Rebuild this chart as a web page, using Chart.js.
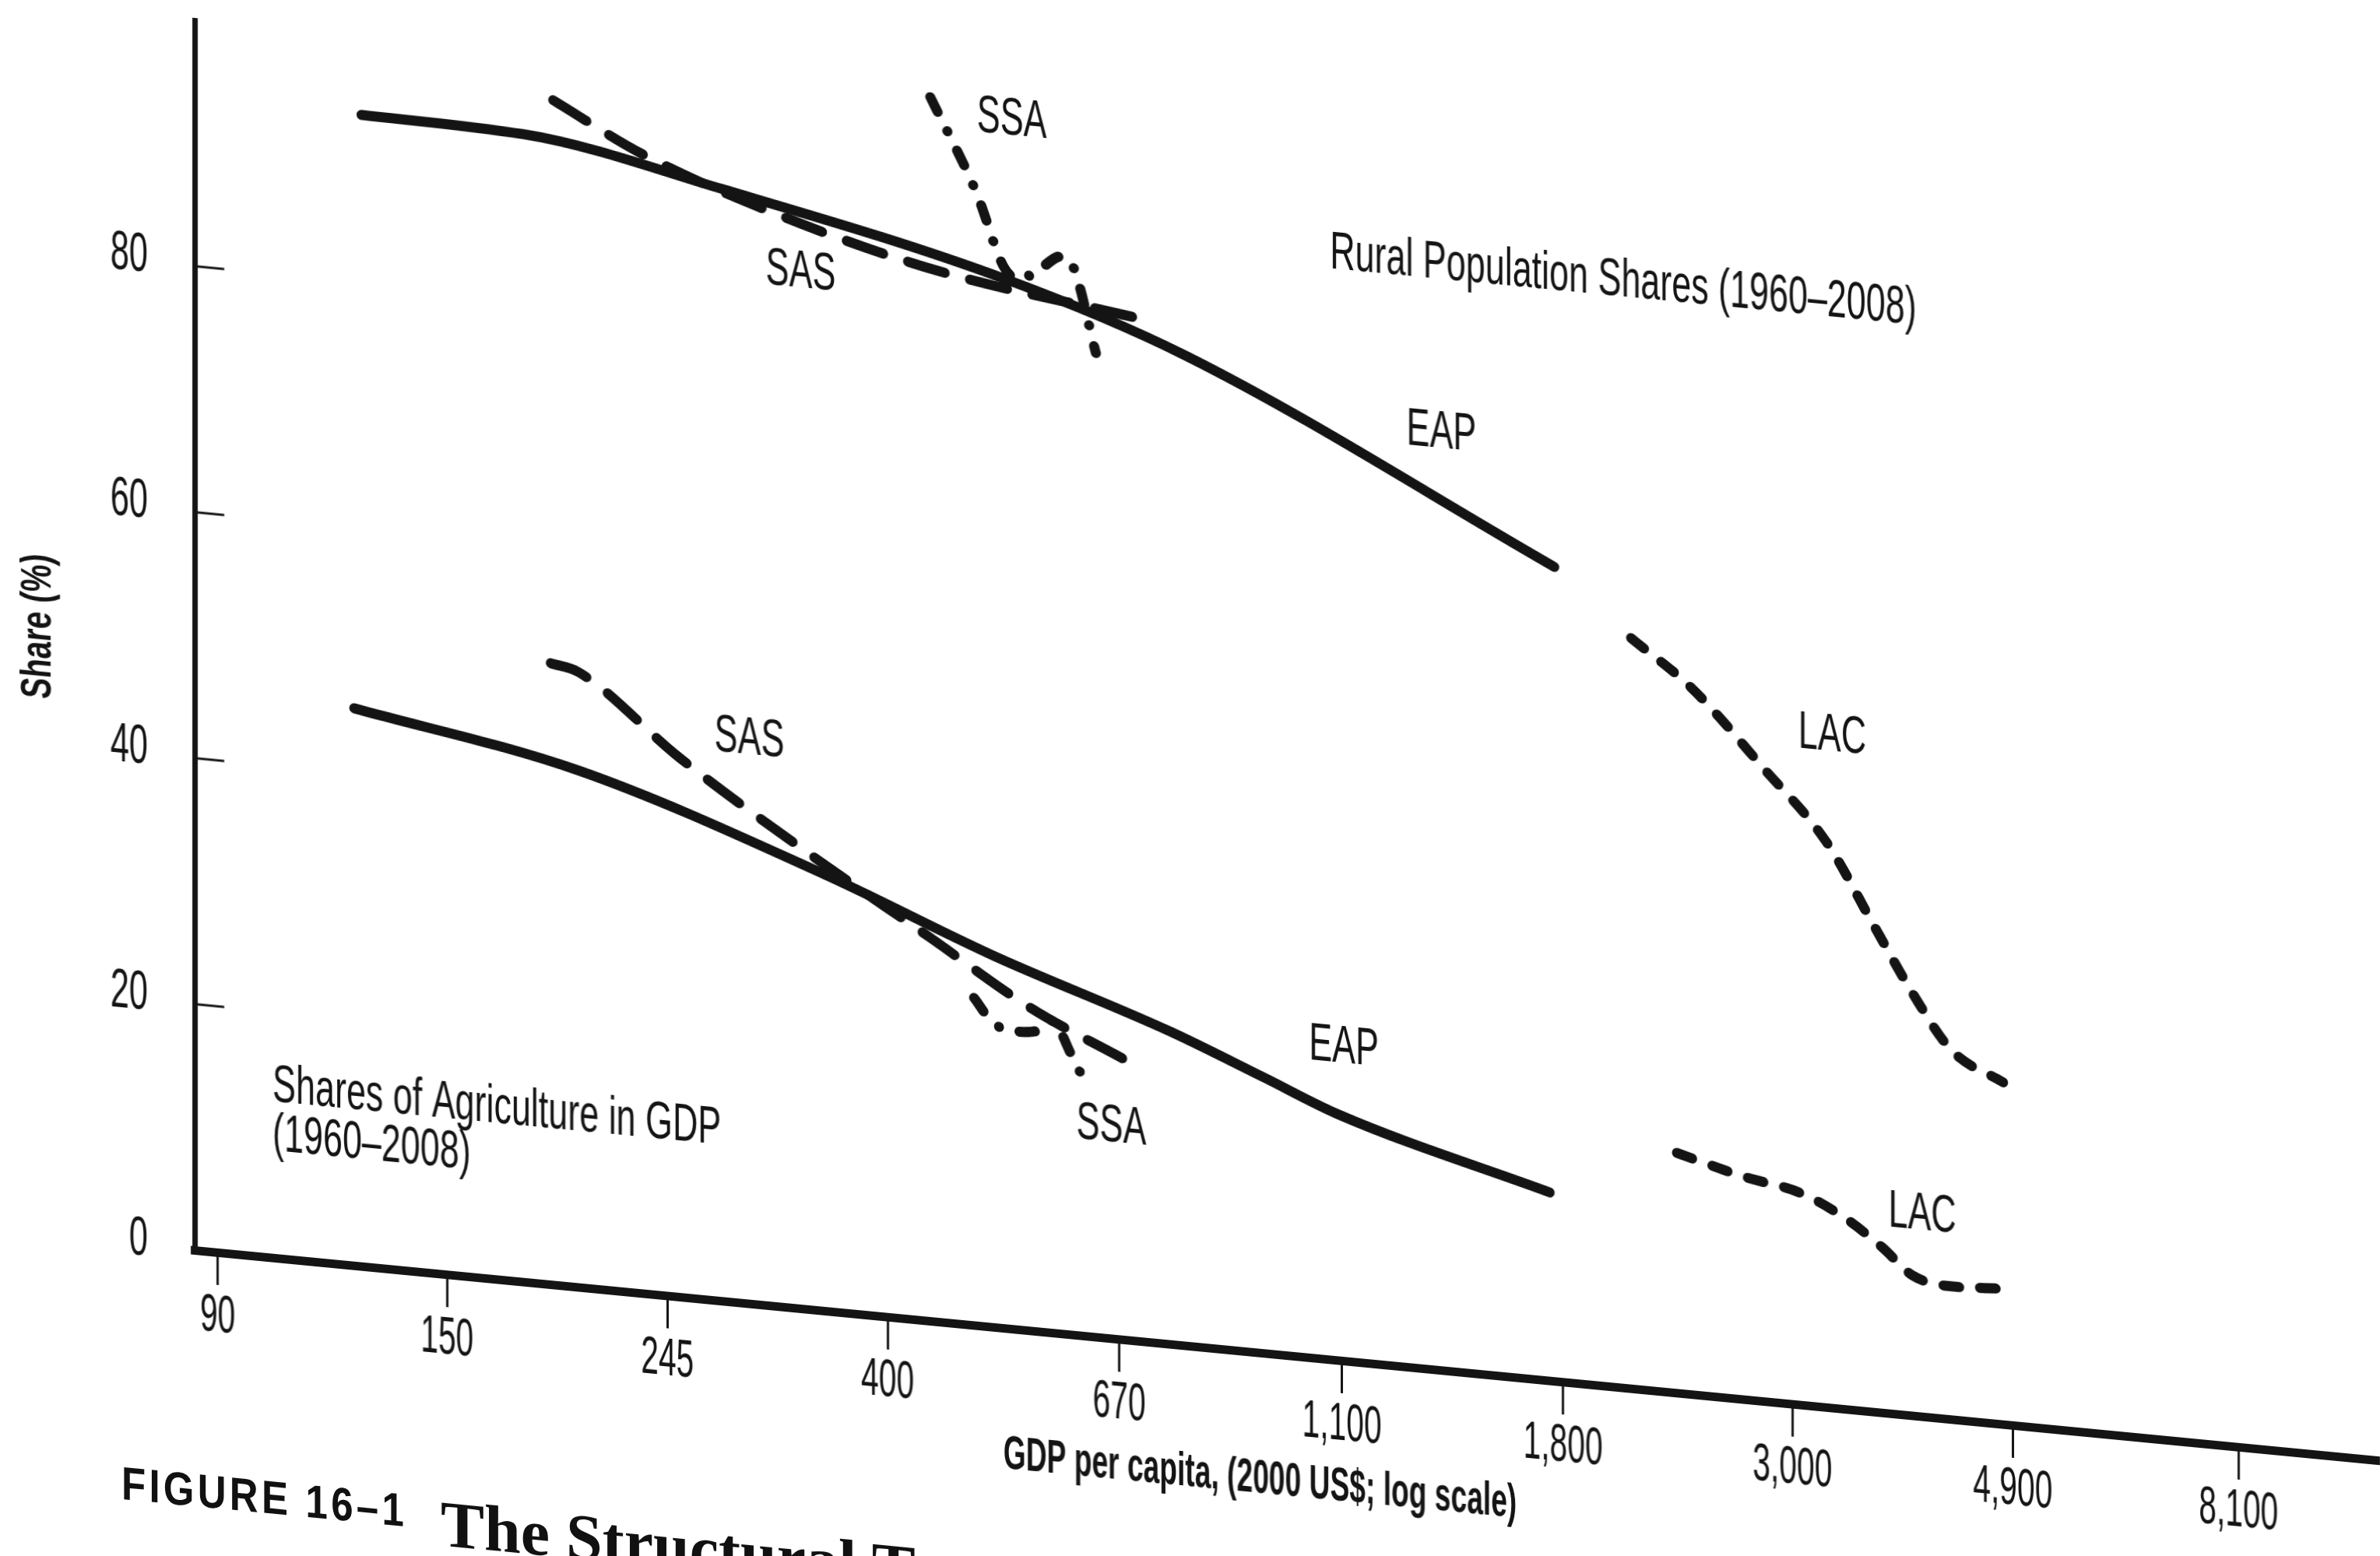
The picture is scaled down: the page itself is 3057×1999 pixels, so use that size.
<!DOCTYPE html>
<html>
<head>
<meta charset="utf-8">
<title>The Structural Transformation</title>
<script src="https://cdn.jsdelivr.net/npm/chart.js@4.4.1/dist/chart.umd.min.js"></script>
<style>
  html, body { margin: 0; padding: 0; background: #fff; overflow: hidden; }
  body { width: 3057px; height: 1999px; position: relative; }
  /* the printed page is photographed at a slant, so the whole figure is sheared */
  #page { position: absolute; left: 0; top: 0; width: 3057px; height: 2100px;
          transform: skewY(5.5deg); transform-origin: 250px 0; }
  #structChart { position: absolute; left: 0; top: 0; }
  .cap { position: absolute; white-space: nowrap; color: #111; transform-origin: 0 0; }
  #fig { left: 156px; top: 1880px; font: bold 60px 'Liberation Sans', Arial, sans-serif;
         letter-spacing: 5px; transform: scaleX(0.85); }
  #ttl { left: 566px; top: 1878px; font: bold 84px 'Liberation Serif', 'DejaVu Serif', serif; }
</style>
</head>
<body>
<div id="page">
  <canvas id="structChart" width="3057" height="1800"></canvas>
  <div class="cap" id="fig">FIGURE 16–1</div>
  <div class="cap" id="ttl">The Structural Transformation</div>
</div>
<script>
    // Axis ticks (GDP per capita, 2000 US$, log scale / share in %)
    const xTickValues = [90, 150, 245, 400, 670, 1100, 1800, 3000, 4900, 8100];
    const yTickValues = [0, 20, 40, 60, 80];

    // Rural population shares (1960-2008)
    const ruralEapGdp = [124, 178, 277, 520, 776, 1765];
    const ruralEapShare = [93.6, 93.3, 90.4, 85.3, 80.5, 66.2];
    const ruralSasGdp = [190, 232, 330, 450, 693];
    const ruralSasShare = [96.3, 92.6, 88.2, 85.4, 83.2];
    const ruralSsaGdp = [440, 488, 518, 535, 558, 590, 605, 636];
    const ruralSsaShare = [99.5, 92.0, 86.3, 85.4, 86.2, 87.6, 86.8, 80.0];
    const ruralLacGdp = [2095, 2398, 2810, 3239, 3610, 3922, 4275, 4795];
    const ruralLacShare = [61.0, 57.4, 51.5, 45.9, 39.3, 34.3, 30.0, 27.8];

    // Shares of agriculture in GDP (1960-2008)
    const agEapGdp = [122, 201, 347, 506, 751, 925, 1090, 1747];
    const agEapShare = [45.3, 42.0, 35.5, 30.2, 25.4, 22.4, 20.0, 15.3];
    const agSasGdp = [189, 201, 251, 335, 439, 551, 681];
    const agSasShare = [50.5, 50.0, 43.9, 37.1, 31.2, 26.2, 22.7];
    const agSsaGdp = [485, 505, 528, 557, 579, 590, 600, 627];
    const agSsaShare = [26.6, 24.8, 24.2, 24.4, 25.4, 24.3, 23.0, 20.0];
    const agLacGdp = [2320, 2690, 3058, 3376, 3668, 3917, 4275, 4764];
    const agLacShare = [19.5, 18.1, 17.2, 15.5, 13.4, 11.4, 10.8, 11.0];

    // Text labels placed in data coordinates (gdp, share)
    const labelTexts = ['SSA', 'SAS', 'Rural Population Shares (1960–2008)', 'EAP', 'SAS', 'LAC',
                        'EAP', 'SSA', 'Shares of Agriculture in GDP', '(1960–2008)', 'LAC'];
    const labelGdp = [488, 305, 1071, 1270, 272, 3039, 1022, 609, 101.7, 101.7, 3714];
    const labelShare = [98.3, 84.2, 89.9, 76.2, 45.9, 54.6, 25.4, 17.2, 13.9, 9.9, 16.4];

    const xTitle = 'GDP per capita, (2000 US$; log scale)';
    const yTitle = 'Share (%)';

    const INK = '#141414';
    const FONT = "'Liberation Sans', Arial, sans-serif";

    const dashes = { EAP: [], SAS: [48, 33], SSA: [20, 27, 0.01, 27], LAC: [20, 27] };

    const pts = (xs, ys) => xs.map((x, i) => ({ x: x, y: ys[i] }));
    const series = (xs, ys, region) => ({
        label: region,
        data: pts(xs, ys),
        borderColor: INK,
        borderWidth: 13,
        borderDash: dashes[region],
        borderCapStyle: 'round',
        borderJoinStyle: 'round',
        pointRadius: 0,
        cubicInterpolationMode: 'monotone',
        fill: false
    });

    // condensed text, like the narrow sans of the printed figure
    function say(ctx, text, x, y, size, opts) {
        const o = opts || {};
        ctx.save();
        ctx.font = (o.bold ? 'bold ' : '') + size + 'px ' + FONT;
        ctx.textAlign = o.align || 'left';
        ctx.textBaseline = o.baseline || 'middle';
        ctx.translate(x, y);
        if (o.rotate) ctx.rotate(o.rotate);
        ctx.scale(o.sx || 0.62, 1);
        ctx.fillText(text, 0, 0);
        ctx.restore();
    }

    // Tick labels, axis titles, region labels and inward y tick marks
    const annotate = {
        id: 'annotate',
        afterDraw(chart) {
            const { ctx, scales: { x, y } } = chart;
            ctx.save();
            ctx.fillStyle = INK;
            ctx.strokeStyle = INK;

            labelTexts.forEach((t, i) => {
                say(ctx, t, x.getPixelForValue(labelGdp[i]), y.getPixelForValue(labelShare[i]), 68, { sx: 0.66 });
            });

            x.ticks.forEach(t => {
                say(ctx, t.value.toLocaleString('en-US'), x.getPixelForValue(t.value), y.bottom + 102, 68,
                    { align: 'center', baseline: 'alphabetic', sx: 0.6 });
            });
            y.ticks.forEach(t => {
                say(ctx, String(t.value), x.left - 60, y.getPixelForValue(t.value) - 6, 70,
                    { align: 'right', sx: 0.62 });
            });

            say(ctx, xTitle, (x.left + x.right) / 2 - 35, y.bottom + 163, 62,
                { align: 'center', bold: true, sx: 0.6 });
            say(ctx, yTitle, 50, (y.top + y.bottom) / 2 + 8, 56,
                { align: 'center', bold: true, sx: 0.72, rotate: -Math.PI / 2 });

            ctx.lineWidth = 3;
            yTickValues.slice(1).forEach(v => {
                const py = y.getPixelForValue(v);
                ctx.beginPath();
                ctx.moveTo(x.left, py);
                ctx.lineTo(x.left + 38, py);
                ctx.stroke();
            });
            ctx.restore();
        }
    };

    const ctx = document.getElementById('structChart').getContext('2d');

    new Chart(ctx, {
        type: 'line',
        data: {
            datasets: [
                series(ruralEapGdp, ruralEapShare, 'EAP'),
                series(ruralSasGdp, ruralSasShare, 'SAS'),
                series(ruralSsaGdp, ruralSsaShare, 'SSA'),
                series(ruralLacGdp, ruralLacShare, 'LAC'),
                series(agEapGdp, agEapShare, 'EAP'),
                series(agSasGdp, agSasShare, 'SAS'),
                series(agSsaGdp, agSsaShare, 'SSA'),
                series(agLacGdp, agLacShare, 'LAC')
            ]
        },
        options: {
            responsive: false,
            animation: false,
            layout: { padding: { top: 26, right: 0, bottom: 0, left: 0 } },
            plugins: {
                legend: { display: false },
                tooltip: { enabled: false }
            },
            scales: {
                x: {
                    type: 'logarithmic',
                    min: 85.5,
                    max: 11100,
                    afterBuildTicks: s => { s.ticks = xTickValues.map(v => ({ value: v })); },
                    afterFit: s => { s.height = 194; },
                    border: { display: true, color: INK, width: 11 },
                    grid: { drawOnChartArea: false, drawTicks: true, tickLength: 42, tickWidth: 3, tickColor: INK },
                    ticks: { display: false, autoSkip: false, maxRotation: 0 }
                },
                y: {
                    min: 0,
                    max: 100,
                    afterBuildTicks: s => { s.ticks = yTickValues.map(v => ({ value: v })); },
                    afterFit: s => { s.width = 250; },
                    border: { display: true, color: INK, width: 7 },
                    grid: { drawOnChartArea: false, drawTicks: false },
                    ticks: { display: false }
                }
            }
        },
        plugins: [annotate]
    });
</script>
</body>
</html>
